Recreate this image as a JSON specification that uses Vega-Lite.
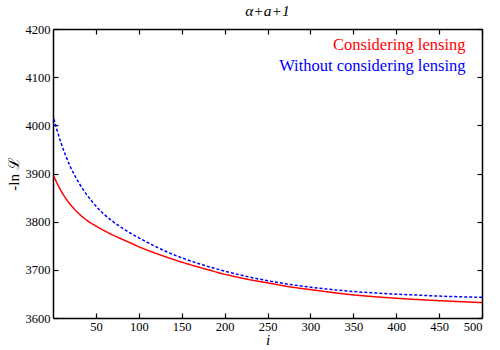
{
  "$schema": "https://vega.github.io/schema/vega-lite/v6.json",
  "width": 429,
  "height": 289,
  "autosize": {"type": "none"},
  "padding": {"left": 53, "top": 29, "right": 18, "bottom": 32},
  "background": "white",
  "title": {"text": "α+a+1", "font": "Liberation Serif", "fontSize": 15.5, "fontStyle": "italic", "fontWeight": "normal", "offset": 4, "color": "black"},
  "config": {
    "view": {"stroke": null},
    "axis": {
      "domainColor": "black", "domainWidth": 1.5,
      "tickColor": "black", "tickWidth": 1.2, "tickSize": -5,
      "labelFont": "Liberation Serif", "labelFontSize": 12.5, "labelColor": "black",
      "titleFont": "Liberation Serif", "titleFontSize": 15, "titleFontWeight": "normal",
      "titleFontStyle": "italic", "titleColor": "black", "grid": false, "format": "d"
    }
  },
  "data": {"values": [
    {"i": 1, "v": 3894, "s": "Considering lensing"},
    {"i": 5, "v": 3879, "s": "Considering lensing"},
    {"i": 10, "v": 3862, "s": "Considering lensing"},
    {"i": 15, "v": 3848, "s": "Considering lensing"},
    {"i": 20, "v": 3836, "s": "Considering lensing"},
    {"i": 25, "v": 3826, "s": "Considering lensing"},
    {"i": 30, "v": 3817, "s": "Considering lensing"},
    {"i": 35, "v": 3809, "s": "Considering lensing"},
    {"i": 40, "v": 3802, "s": "Considering lensing"},
    {"i": 50, "v": 3791, "s": "Considering lensing"},
    {"i": 60, "v": 3781, "s": "Considering lensing"},
    {"i": 70, "v": 3772, "s": "Considering lensing"},
    {"i": 80, "v": 3764, "s": "Considering lensing"},
    {"i": 90, "v": 3756, "s": "Considering lensing"},
    {"i": 100, "v": 3748, "s": "Considering lensing"},
    {"i": 125, "v": 3731, "s": "Considering lensing"},
    {"i": 150, "v": 3716, "s": "Considering lensing"},
    {"i": 175, "v": 3703, "s": "Considering lensing"},
    {"i": 200, "v": 3691, "s": "Considering lensing"},
    {"i": 225, "v": 3681, "s": "Considering lensing"},
    {"i": 250, "v": 3673, "s": "Considering lensing"},
    {"i": 275, "v": 3665, "s": "Considering lensing"},
    {"i": 300, "v": 3659, "s": "Considering lensing"},
    {"i": 350, "v": 3648, "s": "Considering lensing"},
    {"i": 400, "v": 3641, "s": "Considering lensing"},
    {"i": 450, "v": 3636, "s": "Considering lensing"},
    {"i": 500, "v": 3632, "s": "Considering lensing"},
    {"i": 1, "v": 4013, "s": "Without considering lensing"},
    {"i": 5, "v": 3988, "s": "Without considering lensing"},
    {"i": 10, "v": 3960, "s": "Without considering lensing"},
    {"i": 15, "v": 3936, "s": "Without considering lensing"},
    {"i": 20, "v": 3915, "s": "Without considering lensing"},
    {"i": 25, "v": 3897, "s": "Without considering lensing"},
    {"i": 30, "v": 3881, "s": "Without considering lensing"},
    {"i": 35, "v": 3867, "s": "Without considering lensing"},
    {"i": 40, "v": 3854.5, "s": "Without considering lensing"},
    {"i": 45, "v": 3843, "s": "Without considering lensing"},
    {"i": 50, "v": 3832.5, "s": "Without considering lensing"},
    {"i": 55, "v": 3823, "s": "Without considering lensing"},
    {"i": 60, "v": 3814.5, "s": "Without considering lensing"},
    {"i": 70, "v": 3800, "s": "Without considering lensing"},
    {"i": 80, "v": 3787.5, "s": "Without considering lensing"},
    {"i": 90, "v": 3776.5, "s": "Without considering lensing"},
    {"i": 100, "v": 3766.5, "s": "Without considering lensing"},
    {"i": 115, "v": 3752.5, "s": "Without considering lensing"},
    {"i": 130, "v": 3739.5, "s": "Without considering lensing"},
    {"i": 150, "v": 3725, "s": "Without considering lensing"},
    {"i": 175, "v": 3710, "s": "Without considering lensing"},
    {"i": 200, "v": 3697.5, "s": "Without considering lensing"},
    {"i": 225, "v": 3686.5, "s": "Without considering lensing"},
    {"i": 250, "v": 3677.5, "s": "Without considering lensing"},
    {"i": 275, "v": 3670, "s": "Without considering lensing"},
    {"i": 300, "v": 3664, "s": "Without considering lensing"},
    {"i": 325, "v": 3659, "s": "Without considering lensing"},
    {"i": 350, "v": 3655, "s": "Without considering lensing"},
    {"i": 375, "v": 3652, "s": "Without considering lensing"},
    {"i": 400, "v": 3649.5, "s": "Without considering lensing"},
    {"i": 425, "v": 3647.5, "s": "Without considering lensing"},
    {"i": 450, "v": 3645.5, "s": "Without considering lensing"},
    {"i": 475, "v": 3644, "s": "Without considering lensing"},
    {"i": 500, "v": 3643, "s": "Without considering lensing"}
  ]},
  "layer": [
    {
      "mark": {"type": "line", "strokeWidth": 1.5, "interpolate": "monotone"},
      "encoding": {
        "x": {"field": "i", "type": "quantitative",
          "scale": {"domain": [0, 500], "nice": false},
          "axis": {"orient": "bottom", "values": [50, 100, 150, 200, 250, 300, 350, 400, 450, 500], "title": "i", "labelPadding": 7, "titlePadding": 0}},
        "y": {"field": "v", "type": "quantitative",
          "scale": {"domain": [3600, 4200], "nice": false, "zero": false},
          "axis": {"orient": "left", "values": [3600, 3700, 3800, 3900, 4000, 4100, 4200], "title": "-ln ℒ", "titleFontStyle": "normal", "labelPadding": 8, "titlePadding": 4}},
        "color": {"field": "s", "type": "nominal",
          "scale": {"domain": ["Considering lensing", "Without considering lensing"], "range": ["#ff0000", "#0000ff"]},
          "legend": {"orient": "none", "legendX": 396, "legendY": 8, "title": null, "padding": 0,
            "labelFont": "Liberation Serif", "labelFontSize": 16.5, "labelAlign": "right", "labelOffset": 0, "labelLimit": 400,
            "symbolOpacity": 0, "symbolSize": 0, "symbolStrokeWidth": 0, "rowPadding": 4,
            "encode": {"labels": {"update": {"fill": {"scale": "color", "field": "value"}}}}}},
        "strokeDash": {"field": "s", "type": "nominal",
          "scale": {"domain": ["Considering lensing", "Without considering lensing"], "range": [[1, 0], [3, 2]]},
          "legend": null}
      }
    },
    {
      "mark": {"type": "line", "opacity": 0},
      "encoding": {
        "x": {"field": "i", "type": "quantitative",
          "axis": {"orient": "top", "values": [50, 100, 150, 200, 250, 300, 350, 400, 450, 500], "labels": false, "title": null}},
        "y": {"field": "v", "type": "quantitative",
          "axis": {"orient": "right", "values": [3600, 3700, 3800, 3900, 4000, 4100, 4200], "labels": false, "title": null}},
        "detail": {"field": "s", "type": "nominal"}
      }
    }
  ],
  "resolve": {"axis": {"x": "independent", "y": "independent"}}
}
